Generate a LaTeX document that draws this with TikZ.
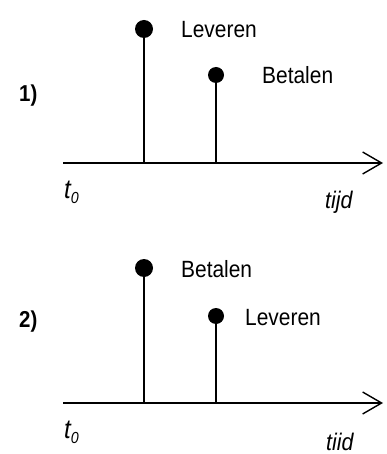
\documentclass[tikz,border=0pt]{standalone}
\usepackage{fontspec}
\setmainfont{Liberation Sans}[FakeStretch=0.89]
\usetikzlibrary{arrows.meta}

\tikzset{
  dot/.style={circle,fill,inner sep=0pt,minimum size=#1},
  lbl/.style={anchor=base west,font=\fontsize{23.5}{26}\selectfont,inner sep=0pt},
  axis/.style={line width=1.6pt,-{Straight Barb[length=19pt,width=22pt,line width=1.4pt]}},
  stem/.style={line width=1.6pt}
}
\newcommand{\tnul}{{\fontsize{27}{30}\selectfont\itshape t}\raisebox{-5pt}{\fontsize{16}{18}\selectfont\itshape 0}}

\begin{document}
\begin{tikzpicture}[x=1pt,y=-1pt]
\useasboundingbox (0,0) rectangle (386,454);

% situatie 1
\node[lbl,font=\fontsize{23}{26}\selectfont\bfseries] (nr1) at (19,102) {1)};
\coordinate (a1) at (63,163);
\coordinate (b1) at (383,163);
\draw[axis] (a1) -- (b1);
\node[dot=18pt] (lev1) at (144,29) {};
\node[dot=16pt] (bet1) at (216,75) {};
\draw[stem] (lev1.center) -- (144,163);
\draw[stem] (bet1.center) -- (216,163);
\node[lbl] (tlev1) at (181,38) {Leveren};
\node[lbl] (tbet1) at (262,84) {Betalen};
\node[lbl] (tnul1) at (64,198) {\tnul};
\node[lbl,font=\fontsize{24}{26}\selectfont] (tijd1) at (325,208) {\itshape tijd};

% situatie 2
\node[lbl,font=\fontsize{23}{26}\selectfont\bfseries] (nr2) at (19,327) {2)};
\coordinate (a2) at (63,403);
\coordinate (b2) at (383,403);
\draw[axis] (a2) -- (b2);
\node[dot=18pt] (bet2) at (144,268) {};
\node[dot=16pt] (lev2) at (216,316) {};
\draw[stem] (bet2.center) -- (144,403);
\draw[stem] (lev2.center) -- (216,403);
\node[lbl] (tbet2) at (181,277) {Betalen};
\node[lbl] (tlev2) at (245,325) {Leveren};
\node[lbl] (tnul2) at (64,438) {\tnul};
\node[lbl,font=\fontsize{24}{26}\selectfont] (tijd2) at (326,450) {\itshape tiid};
\end{tikzpicture}
\end{document}
